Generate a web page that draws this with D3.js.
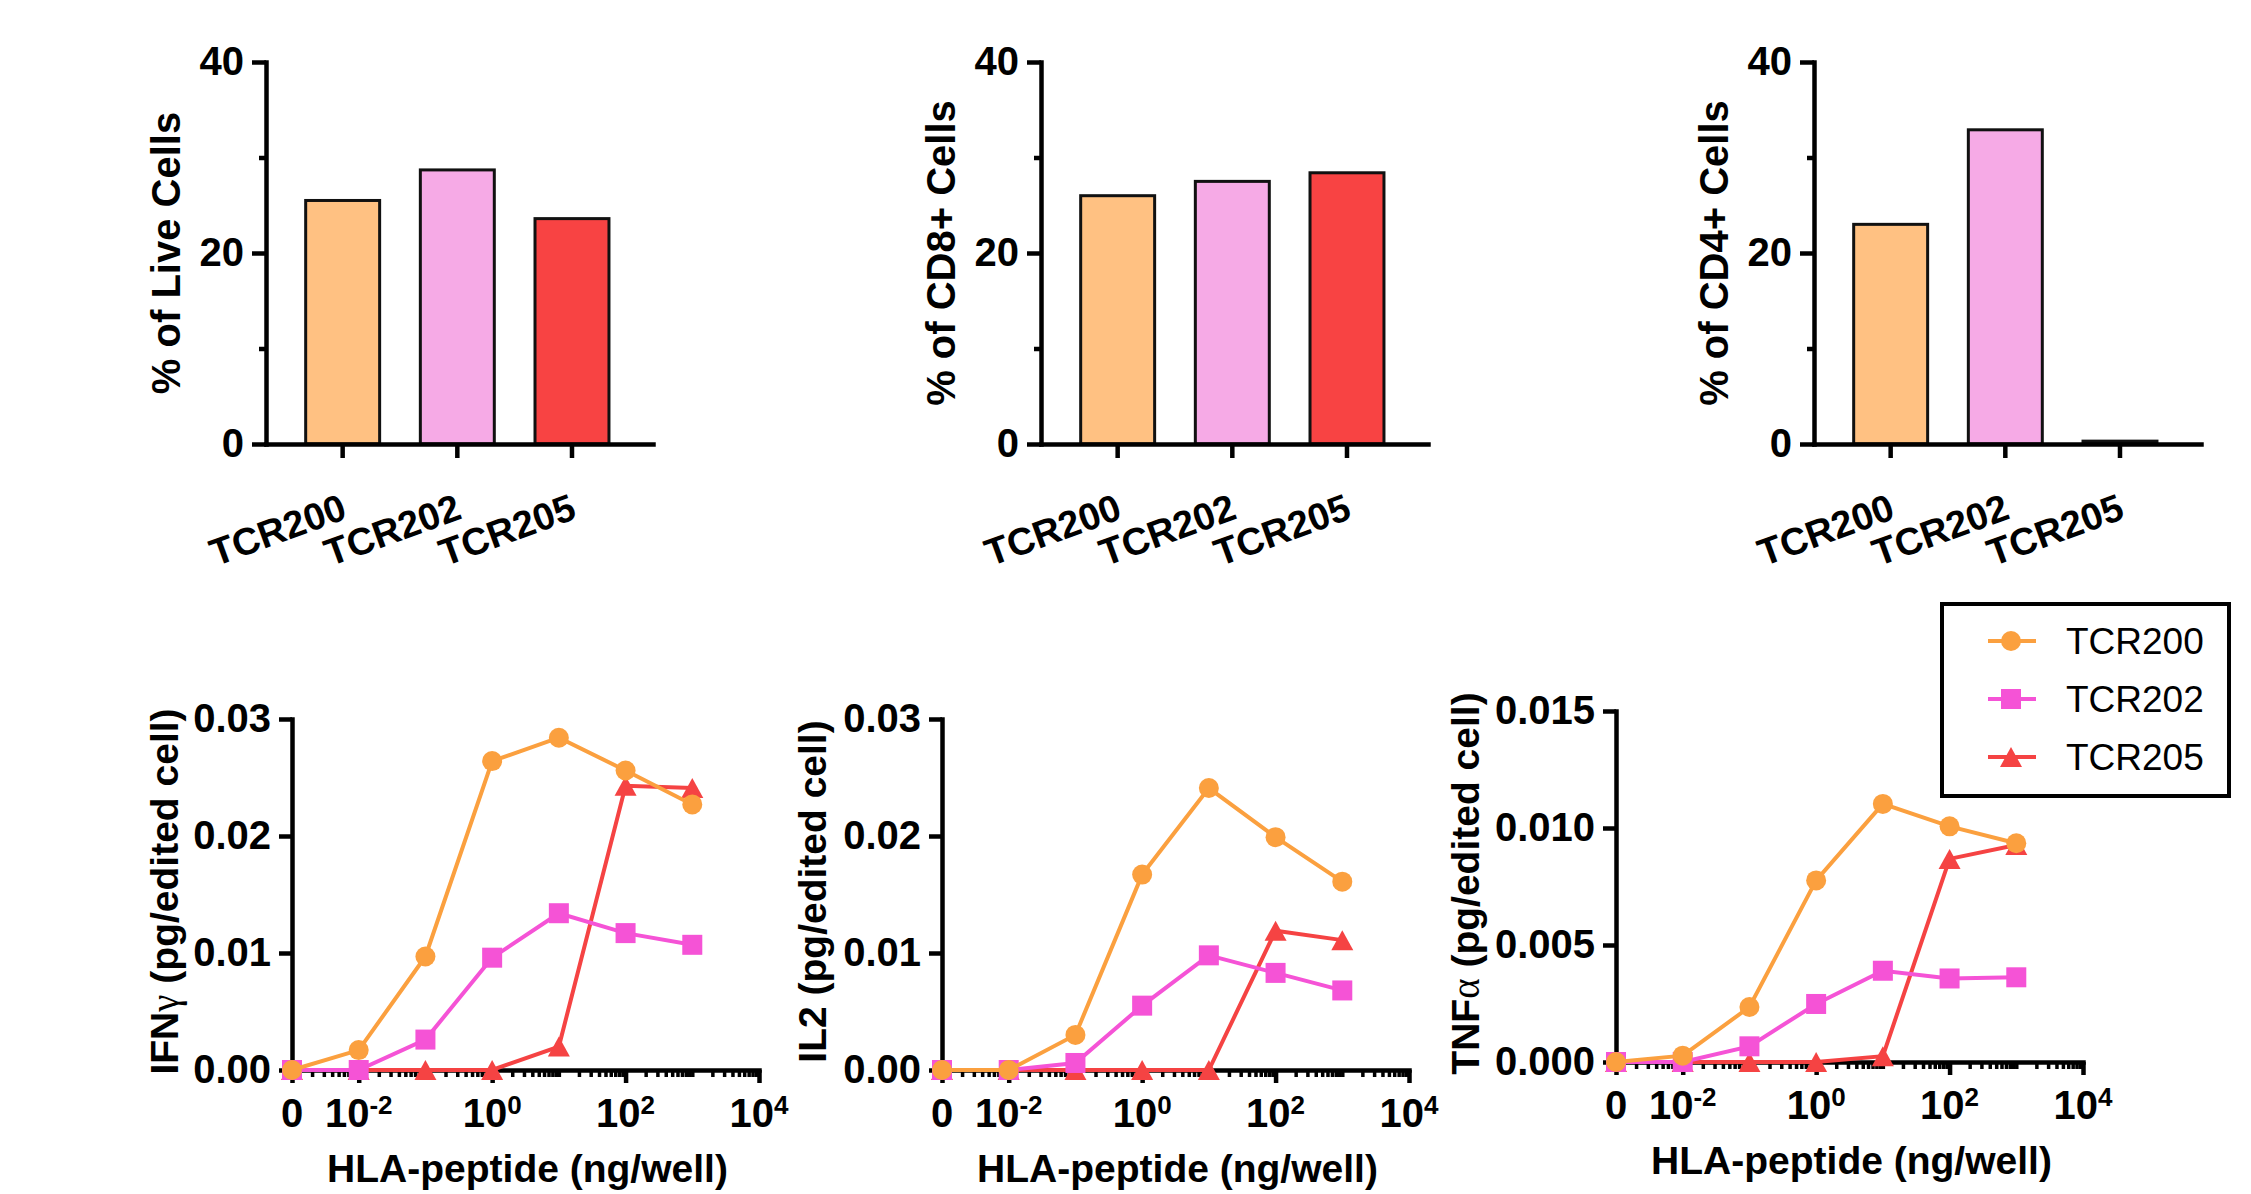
<!DOCTYPE html>
<html lang="en">
<head>
<meta charset="UTF-8">
<title>TCR expression and cytokine release</title>
<script src="https://d3js.org/d3.v7.min.js"></script>
<style>
  body { margin: 0; background: #fff; }
  text { font-family: "Liberation Sans", Arial, sans-serif; fill: #000; }
</style>
</head>
<body>
<div id="chart"></div>
<script>
// top row: percent of cells per TCR
var tcrs = ['TCR200', 'TCR202', 'TCR205'];
var liveCells = [25.5, 28.7, 23.6];
var cd8Cells = [26.0, 27.5, 28.4];
var cd4Cells = [23.0, 32.9, 0.3];
var barTicks = [0, 20, 40];
var barMinorTicks = [10, 30];

// bottom row: cytokine per edited cell vs HLA-peptide dose (0 is drawn at 10^-3)
var doses = [0, 0.01, 0.1, 1, 10, 100, 1000];
var ifng200 = [0, 0.0017, 0.0097, 0.0264, 0.0284, 0.0256, 0.0227];
var ifng202 = [0, 0, 0.0026, 0.0096, 0.0134, 0.0117, 0.0107];
var ifng205 = [0, 0, 0, 0, 0.0020, 0.0243, 0.0241];
var il2200 = [0, 0, 0.0030, 0.0167, 0.0241, 0.0199, 0.0161];
var il2202 = [0, 0, 0.0006, 0.0055, 0.0098, 0.0083, 0.0068];
var il2205 = [0, 0, 0, 0, 0, 0.0119, 0.0111];
var tnf200 = [0, 0.00027, 0.00235, 0.00776, 0.01103, 0.01007, 0.00935];
var tnf202 = [0, 0, 0.00067, 0.00248, 0.0039, 0.00357, 0.00362];
var tnf205 = [0, 0, 0, 0, 0.00025, 0.00868, 0.00927];
var ifngTicks = [0, 0.01, 0.02, 0.03];
var il2Ticks = [0, 0.01, 0.02, 0.03];
var tnfTicks = [0, 0.005, 0.010, 0.015];
var doseTicks = [0, 0.01, 1, 100, 10000];

var barColors = ['#FFC182', '#F6AAE6', '#F84343'];
var lineColors = ['#FBA03F', '#F553D6', '#F54343'];
var markers = ['circle', 'square', 'triangle'];

var svg = d3.select('#chart').append('svg')
  .attr('width', 2251)
  .attr('height', 1194);
svg.append('rect').attr('width', 2251).attr('height', 1194).attr('fill', '#fff');

function styleAxis(g, size) {
  g.select('.domain').attr('stroke', '#000').attr('stroke-width', 4.5).attr('stroke-linecap', 'square');
  g.selectAll('.tick line').attr('stroke', '#000').attr('stroke-width', 4.5);
  g.selectAll('.tick text')
    .style('font-family', '"Liberation Sans", Arial, sans-serif')
    .style('font-size', size + 'px')
    .style('font-weight', 'bold')
    .attr('fill', '#000');
}

function barChart(left, values, title) {
  var top = 62, bottom = 444, width = 387;
  var x = d3.scaleBand().domain(tcrs).range([left, left + width])
    .paddingInner(0.355).paddingOuter(0.365).align(0.474);
  var y = d3.scaleLinear().domain([0, 40]).range([bottom, top]);
  var g = svg.append('g');

  var yAxis = g.append('g').attr('transform', 'translate(' + left + ',0)')
    .call(d3.axisLeft(y).tickValues(barTicks).tickSize(14).tickSizeOuter(0).tickPadding(8));
  styleAxis(yAxis, 40);
  var yMinor = g.append('g').attr('transform', 'translate(' + left + ',0)')
    .call(d3.axisLeft(y).tickValues(barMinorTicks).tickSize(7).tickFormat(''));
  yMinor.select('.domain').remove();
  styleAxis(yMinor, 40);

  g.selectAll('rect.bar').data(values).enter().append('rect')
    .attr('class', 'bar')
    .attr('x', function(d, i) { return x(tcrs[i]); })
    .attr('y', function(d) { return y(d); })
    .attr('width', x.bandwidth())
    .attr('height', function(d) { return y(0) - y(d); })
    .attr('fill', function(d, i) { return barColors[i]; })
    .attr('stroke', '#111')
    .attr('stroke-width', 3);

  var xAxis = g.append('g').attr('transform', 'translate(0,' + bottom + ')')
    .call(d3.axisBottom(x).tickSize(14).tickSizeOuter(0).tickFormat(''));
  styleAxis(xAxis, 40);

  g.selectAll('text.cat').data(tcrs).enter().append('text')
    .attr('class', 'cat')
    .attr('transform', function(d) {
      return 'translate(' + (x(d) + x.bandwidth() / 2 + 6) + ',518) rotate(-20)';
    })
    .attr('text-anchor', 'end')
    .style('font-size', '38px')
    .style('font-weight', 'bold')
    .text(function(d) { return d; });

  g.append('text')
    .attr('transform', 'translate(' + (left - 86) + ',' + ((top + bottom) / 2) + ') rotate(-90)')
    .attr('text-anchor', 'middle')
    .style('font-size', '40px')
    .style('font-weight', 'bold')
    .text(title);
}

function drawMarker(sel, kind, color) {
  if (kind === 'circle') {
    sel.append('circle').attr('r', 10).attr('fill', color);
  } else if (kind === 'square') {
    sel.append('rect').attr('x', -10).attr('y', -10).attr('width', 20).attr('height', 20).attr('fill', color);
  } else {
    sel.append('path').attr('d', 'M0,-10L11,10L-11,10Z').attr('fill', color);
  }
}

function doseChart(left, bottom, yMax, ticks, fmt, series, titleName, titleGap) {
  var top = bottom - 351;
  var x = d3.scaleLog().domain([1e-3, 1e4]).range([left, left + 467]);
  var y = d3.scaleLinear().domain([0, yMax]).range([bottom, top]);
  var xPos = function(d) { return x(d === 0 ? 1e-3 : d); };
  var g = svg.append('g');

  var yAxis = g.append('g').attr('transform', 'translate(' + left + ',0)')
    .call(d3.axisLeft(y).tickValues(ticks).tickSize(13).tickSizeOuter(0).tickPadding(8)
      .tickFormat(d3.format(fmt)));
  styleAxis(yAxis, 40);

  var minor = [];
  d3.range(-3, 4).forEach(function(e) {
    d3.range(1, 10).forEach(function(m) {
      if (m > 1 || (e % 2 !== 0 && e !== -3)) minor.push(m * Math.pow(10, e));
    });
  });
  var xMinor = g.append('g').attr('transform', 'translate(0,' + bottom + ')')
    .call(d3.axisBottom(x).tickValues(minor).tickSize(7).tickFormat(''));
  xMinor.select('.domain').remove();
  styleAxis(xMinor, 40);
  xMinor.selectAll('.tick line').attr('stroke-width', 3.5);
  var xAxis = g.append('g').attr('transform', 'translate(0,' + bottom + ')')
    .call(d3.axisBottom(x).tickValues(doseTicks.map(function(d) { return d === 0 ? 1e-3 : d; }))
      .tickSize(13).tickSizeOuter(0).tickFormat(''));
  styleAxis(xAxis, 40);

  doseTicks.forEach(function(v) {
    var t = g.append('text')
      .attr('x', xPos(v))
      .attr('y', bottom + 57)
      .attr('text-anchor', 'middle')
      .style('font-size', '40px')
      .style('font-weight', 'bold');
    if (v === 0) {
      t.text('0');
    } else {
      t.append('tspan').text('10');
      t.append('tspan').attr('dy', -13).style('font-size', '26px').text(String(Math.round(Math.log10(v))));
    }
  });

  var line = d3.line()
    .x(function(d, i) { return xPos(doses[i]); })
    .y(function(d) { return y(d); });

  // TCR205 first so TCR200 ends on top, as in the original
  [2, 1, 0].forEach(function(k) {
    g.append('path')
      .datum(series[k])
      .attr('d', line)
      .attr('fill', 'none')
      .attr('stroke', lineColors[k])
      .attr('stroke-width', 4);
    series[k].forEach(function(v, i) {
      var m = g.append('g').attr('transform', 'translate(' + xPos(doses[i]) + ',' + y(v) + ')');
      drawMarker(m, markers[k], lineColors[k]);
    });
  });

  var yt = g.append('text')
    .attr('transform', 'translate(' + (left - titleGap) + ',' + ((top + bottom) / 2 - 3) + ') rotate(-90)')
    .attr('text-anchor', 'middle')
    .style('font-size', '39px')
    .style('font-weight', 'bold');
  yt.append('tspan').text(titleName[0]);
  yt.append('tspan').style('font-weight', 'normal').style('font-family', '"Liberation Serif", serif').text(titleName[1]);
  yt.append('tspan').text(' (pg/edited cell)');

  g.append('text')
    .attr('x', (x.range()[0] + x.range()[1]) / 2 + 2)
    .attr('y', bottom + 112)
    .attr('text-anchor', 'middle')
    .style('font-size', '39px')
    .style('font-weight', 'bold')
    .text('HLA-peptide (ng/well)');
}

barChart(266, liveCells, '% of Live Cells');
barChart(1041, cd8Cells, '% of CD8+ Cells');
barChart(1814, cd4Cells, '% of CD4+ Cells');

doseChart(292, 1070, 0.03, ifngTicks, '.2f', [ifng200, ifng202, ifng205], ['IFN', '\u03b3'], 114);
doseChart(942, 1070, 0.03, il2Ticks, '.2f', [il2200, il2202, il2205], ['IL2', ''], 116);
doseChart(1616, 1062, 0.015, tnfTicks, '.3f', [tnf200, tnf202, tnf205], ['TNF', '\u03b1'], 137);

// legend
var legend = svg.append('g');
legend.append('rect')
  .attr('x', 1942).attr('y', 604).attr('width', 287).attr('height', 192)
  .attr('fill', '#fff').attr('stroke', '#000').attr('stroke-width', 4);
tcrs.forEach(function(name, i) {
  var ly = 641 + i * 58;
  legend.append('line')
    .attr('x1', 1988).attr('x2', 2036).attr('y1', ly).attr('y2', ly)
    .attr('stroke', lineColors[i]).attr('stroke-width', 4);
  drawMarker(legend.append('g').attr('transform', 'translate(2011,' + ly + ')'), markers[i], lineColors[i]);
  legend.append('text')
    .attr('x', 2066).attr('y', ly + 13)
    .style('font-size', '37px')
    .text(name);
});
</script>
</body>
</html>
